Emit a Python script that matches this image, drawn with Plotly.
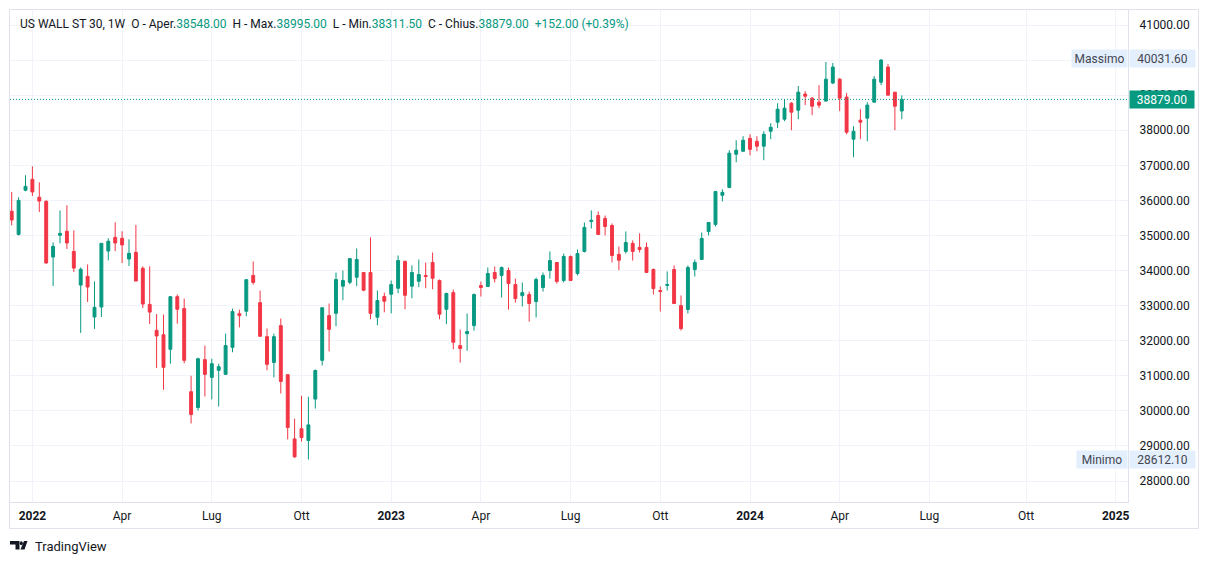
import pandas as pd
import plotly.graph_objects as go

# ---- data (weekly OHLC, US WALL ST 30) ----
start_date = "2021-12-13"
opens = [35690, 35030, 36290, 36600, 36090, 35975, 34385, 35005, 35120, 34545,
         33585, 33835, 32675, 32960, 34555, 34945, 34920, 34330, 34520, 34065,
         33035, 32295, 32170, 31755, 33255, 32915, 30545, 30095, 31460, 30955,
         31155, 31040, 31810, 32770, 32840, 33860, 33085, 32115, 31380, 32430,
         31030, 29200, 29490, 29155, 30335, 31440, 32715, 32780, 33555, 33665,
         33810, 33945, 33945, 32670, 33260, 33325, 33495, 34260, 33555, 33695,
         33860, 34230, 33715, 32895, 33370, 31860, 32200, 32430, 33570, 33545,
         33945, 33860, 34000, 33600, 33285, 33315, 33115, 33515, 34000, 34230,
         33715, 34400, 33915, 34545, 35400, 35570, 35485, 35285, 34460, 34545,
         34775, 34660, 34660, 34030, 33430, 33575, 34030, 33000, 32890, 34030,
         34315, 35115, 35315, 36145, 36370, 37315, 37400, 37770, 37685, 37545,
         37970, 38230, 38315, 38770, 38570, 39030, 38915, 38800, 38830, 39345,
         39455, 38945, 37745, 38285, 38345, 38800, 39370, 39800, 39085, 38548]
highs = [36240, 36090, 36715, 36970, 36515, 36000, 34805, 35715, 35860, 35145,
         34090, 34175, 33690, 34780, 34920, 35375, 35120, 34890, 35300, 34120,
         34120, 32760, 32745, 33260, 33315, 33200, 31000, 31515, 31860, 31485,
         31345, 32200, 32915, 32885, 33745, 34260, 33430, 32345, 32200, 32630,
         31040, 29775, 30430, 30400, 31180, 32945, 33060, 33945, 34000, 34345,
         34630, 33950, 34945, 33430, 33370, 33715, 34430, 34285, 34145, 34315,
         34230, 34515, 33745, 33370, 33460, 32315, 32775, 33345, 33685, 34085,
         34115, 34115, 34085, 33770, 33660, 33400, 33800, 33945, 34545, 34235,
         34485, 34430, 34600, 35370, 35715, 35685, 35570, 35345, 34685, 35115,
         34860, 35060, 34800, 34060, 33545, 33975, 34145, 33290, 34145, 34315,
         35085, 35375, 36260, 36315, 37430, 37715, 37830, 37885, 37830, 37970,
         38200, 38770, 38885, 38800, 39260, 39115, 38945, 39285, 39945, 39915,
         39485, 39060, 38115, 38600, 38800, 39545, 40031.6, 39885, 39090, 38995]
lows = [35290, 35000, 36260, 36125, 35670, 34200, 33560, 34775, 34615, 33960,
        32220, 33105, 32335, 32675, 34290, 34555, 34215, 34130, 33700, 32930,
        32475, 31220, 30600, 31345, 32485, 31355, 29640, 30010, 30410, 30325,
        30125, 31035, 31670, 32380, 32695, 33600, 32120, 31155, 30955, 30495,
        29185, 28660, 29125, 28612.1, 30065, 31295, 31695, 32410, 33155, 33610,
        33555, 33410, 32610, 32440, 32810, 32780, 33355, 32895, 33210, 33525,
        33495, 33465, 32610, 32470, 31755, 31375, 31715, 32285, 33260, 33540,
        33660, 33230, 32885, 33085, 32975, 32545, 32660, 33400, 33770, 33630,
        33660, 33710, 33860, 34515, 35200, 35025, 35000, 34230, 34010, 34485,
        34285, 34515, 33940, 33315, 32830, 33430, 33055, 32290, 32775, 33830,
        34310, 35000, 35255, 35970, 36345, 37085, 37395, 37285, 37400, 37145,
        37745, 38060, 38260, 38000, 38315, 38715, 38430, 38630, 38825, 39315,
        38545, 37885, 37230, 37745, 37685, 38795, 39285, 38995, 38000, 38311.5]
closes = [35440, 36000, 36400, 36240, 35980, 34215, 34690, 35060, 34785, 34070,
          34035, 33530, 32950, 34775, 34835, 34785, 34730, 34490, 33700, 33045,
          32815, 32135, 31240, 33255, 32895, 31440, 29895, 31485, 31040, 31345,
          31260, 31860, 32830, 32715, 33740, 33660, 32125, 31325, 32115, 30840,
          29525, 28690, 29240, 29600, 31150, 32940, 32325, 33745, 33715, 34340,
          34315, 33440, 32780, 33145, 33125, 33600, 34285, 33295, 33945, 33885,
          33830, 33780, 32755, 33345, 31955, 31775, 32260, 33315, 33515, 33915,
          33770, 34085, 33630, 33200, 33370, 33060, 33745, 33860, 34285, 33690,
          34400, 33715, 34485, 35230, 35430, 35030, 35255, 34430, 34295, 34800,
          34545, 34600, 33945, 33485, 33400, 33600, 33060, 32345, 34085, 34230,
          34915, 35370, 36255, 36230, 37345, 37430, 37715, 37455, 37545, 37885,
          38085, 38600, 38630, 38515, 39085, 38970, 38685, 38715, 39455, 39800,
          38915, 37945, 37970, 38230, 38715, 39455, 40000, 39000, 38685, 38879]

tick_dates = ["2022-01-03", "2022-04-04", "2022-07-04", "2022-10-03",
              "2023-01-02", "2023-04-03", "2023-07-03", "2023-10-02",
              "2024-01-01", "2024-04-01", "2024-07-01", "2024-10-07", "2025-01-06"]
tick_labels = ["<b>2022</b>", "Apr", "Lug", "Ott", "<b>2023</b>", "Apr", "Lug", "Ott",
               "<b>2024</b>", "Apr", "Lug", "Ott", "<b>2025</b>"]

last_price = 38879.00
max_price = 40031.60
min_price = 28612.10

dates = pd.date_range(start_date, periods=len(opens), freq="W-MON")

GREEN = "#089981"
RED = "#f23645"
TEXT = "#131722"
GRID = "#f0f3fa"
BORDER = "#e0e3eb"
FONT = "Roboto"

# pixel helpers for decorations (plot area: x 10..1128, y 10..502)
def px(x):
    return (x - 10) / 1118.0

def py(y):
    return (502 - y) / 492.0

fig = go.Figure()
fig.add_trace(go.Candlestick(
    x=dates, open=opens, high=highs, low=lows, close=closes,
    increasing=dict(line=dict(color=GREEN, width=1), fillcolor=GREEN),
    decreasing=dict(line=dict(color=RED, width=1), fillcolor=RED),
    whiskerwidth=0, hoverinfo="skip", showlegend=False,
))

shapes = []
# current price dotted line
shapes.append(dict(type="line", xref="paper", yref="y", x0=0, x1=1,
                   y0=last_price, y1=last_price,
                   line=dict(color=GREEN, width=1, dash="1px,2px")))
# outer frame
shapes.append(dict(type="rect", xref="paper", yref="paper",
                   x0=px(9.5), x1=px(1198.5), y0=py(528.5), y1=py(9.5),
                   line=dict(color=BORDER, width=1), fillcolor="rgba(0,0,0,0)", layer="above"))
# TradingView logo
def path(pts):
    return "M " + " L ".join(f"{px(a):.6f},{py(b):.6f}" for a, b in pts) + " Z"
shapes.append(dict(type="path", xref="paper", yref="paper",
                   path=path([(10, 541), (19.5, 541), (19.5, 549.5), (15.5, 549.5),
                              (15.5, 544.5), (10, 544.5)]),
                   fillcolor=TEXT, line=dict(width=0)))
shapes.append(dict(type="circle", xref="paper", yref="paper",
                   x0=px(19.8), x1=px(22.8), y0=py(545.2), y1=py(541.2),
                   fillcolor=TEXT, line=dict(width=0)))
shapes.append(dict(type="path", xref="paper", yref="paper",
                   path=path([(20.5, 549.5), (24, 541), (27.5, 541), (24.5, 549.5)]),
                   fillcolor=TEXT, line=dict(width=0)))

def g(t):
    return f"<span style='color:{GREEN}'>{t}</span>"

nb = "\u00a0"
legend_text = (f"US WALL ST 30, 1W{nb}{nb}O - Aper.{g('38548.00')}{nb}{nb}"
               f"H - Max.{g('38995.00')}{nb}{nb}L - Min.{g('38311.50')}{nb}{nb}"
               f"C - Chius.{g('38879.00')}{nb}{nb}{g('+152.00 (+0.39%)')}")

annotations = [
    dict(text=legend_text, xref="paper", yref="paper", x=px(18), y=py(23.5),
         xanchor="left", yanchor="middle", showarrow=False,
         font=dict(family=FONT, size=12, color=TEXT)),
    # Massimo
    dict(text="Massimo", xref="paper", yref="y", x=px(1127.5), y=max_price,
         xanchor="right", yanchor="middle", showarrow=False, bgcolor="#e3effd",
         width=53, height=15, borderpad=1, font=dict(family=FONT, size=12, color="#434651")),
    dict(text=f"{max_price:.2f}", xref="paper", yref="y", x=px(1129), y=max_price,
         xanchor="left", yanchor="middle", showarrow=False, bgcolor="#e3effd",
         width=63, height=15, borderpad=1, font=dict(family=FONT, size=12, color="#434651")),
    # Minimo
    dict(text="Minimo", xref="paper", yref="y", x=px(1127.5), y=min_price,
         xanchor="right", yanchor="middle", showarrow=False, bgcolor="#e3effd",
         width=48, height=15, borderpad=1, font=dict(family=FONT, size=12, color="#434651")),
    dict(text=f"{min_price:.2f}", xref="paper", yref="y", x=px(1129), y=min_price,
         xanchor="left", yanchor="middle", showarrow=False, bgcolor="#e3effd",
         width=63, height=15, borderpad=1, font=dict(family=FONT, size=12, color="#434651")),
    # last price
    dict(text=f"{last_price:.2f}", xref="paper", yref="y", x=px(1129), y=last_price,
         xanchor="left", yanchor="middle", showarrow=False, bgcolor=GREEN,
         width=62, height=15, borderpad=1, font=dict(family=FONT, size=12, color="white")),
    # TradingView wordmark
    dict(text="TradingView", xref="paper", yref="paper", x=px(32.5), y=py(546),
         xanchor="left", yanchor="middle", showarrow=False,
         font=dict(family=FONT, size=13, color=TEXT)),
]

fig.update_layout(
    width=1209, height=564,
    margin=dict(l=10, r=81, t=10, b=62),
    paper_bgcolor="white", plot_bgcolor="white",
    font=dict(family=FONT, size=12, color=TEXT),
    showlegend=False,
    boxgap=0.4,
    shapes=shapes, annotations=annotations,
    xaxis=dict(
        type="date",
        range=["2021-12-11 06:36", "2025-01-18 11:30"],
        tickvals=tick_dates, ticktext=tick_labels,
        showgrid=True, gridcolor=GRID, gridwidth=1,
        showline=True, linecolor=BORDER, linewidth=1,
        ticks="", zeroline=False,
        ticklabelstandoff=3,
        rangeslider=dict(visible=False),
        tickfont=dict(family=FONT, size=12, color=TEXT),
        fixedrange=True,
    ),
    yaxis=dict(
        side="right",
        range=[27401.3, 41427.6],
        dtick=1000, tick0=0, tickformat=".2f",
        showgrid=True, gridcolor=GRID, gridwidth=1,
        showline=True, linecolor=BORDER, linewidth=1,
        ticks="", zeroline=False,
        ticklabelstandoff=8,
        tickfont=dict(family=FONT, size=12, color=TEXT),
        fixedrange=True,
    ),
)

fig.write_html("out.html", config={"displayModeBar": False})

# remove the browser's default page margin so the figure sits at (0, 0)
with open("out.html", "r", encoding="utf-8") as f:
    html = f.read()
html = html.replace("<head>", "<head><style>html,body{margin:0;padding:0;overflow:hidden;}</style>", 1)
with open("out.html", "w", encoding="utf-8") as f:
    f.write(html)
